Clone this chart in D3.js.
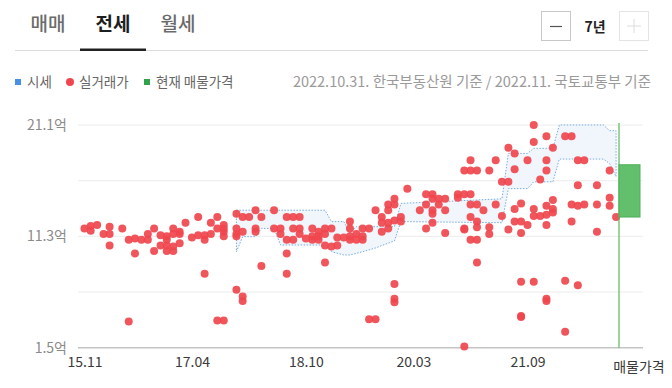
<!DOCTYPE html>
<html>
<head>
<meta charset="utf-8">
<script src="https://cdn.jsdelivr.net/npm/d3@7"></script>
<style>
  html, body { margin: 0; padding: 0; background: #fff; }
  svg { display: block; font-family: "Noto Sans CJK KR", "Noto Sans", sans-serif; }
</style>
</head>
<body>
<div id="chart"></div>
<script>
// tabs / controls
const tabs = ["매매", "전세", "월세"]
const activeTab = "전세"
const periodLabel = "7년"

// legend
const legendItems = [
  { label: "시세", shape: "square", color: "#4a90e2" },
  { label: "실거래가", shape: "circle", color: "#f0464e" },
  { label: "현재 매물가격", shape: "square", color: "#2fa24a" }
]
const sourceNote = "2022.10.31. 한국부동산원 기준 / 2022.11. 국토교통부 기준"

// axes
const yTickValues = [1.5, 6.4, 11.3, 16.2, 21.1]
const yLabelValues = [1.5, 11.3, 21.1]
const xTickLabels = ["15.11", "17.04", "18.10", "20.03", "21.09"]
const listingLabel = "매물가격"

// 실거래가 (억) by contract month
const tradeMonths = [
  "2015-11", "2015-12", "2016-01", "2016-02", "2016-03", "2016-05", "2016-06", "2016-07",
  "2016-08", "2016-09", "2016-10", "2016-11", "2016-12", "2017-01", "2017-02", "2017-03",
  "2017-04", "2017-05", "2017-06", "2017-07", "2017-08", "2017-09", "2017-11", "2017-12",
  "2018-01", "2018-02", "2018-03", "2018-05", "2018-06", "2018-07", "2018-08", "2018-09",
  "2018-10", "2018-11", "2018-12", "2019-01", "2019-02", "2019-03", "2019-04", "2019-05",
  "2019-06", "2019-07", "2019-08", "2019-09", "2019-10", "2019-11", "2019-12", "2020-01",
  "2020-02", "2020-04", "2020-05", "2020-06", "2020-07", "2020-08", "2020-10", "2020-11",
  "2020-12", "2021-01", "2021-02", "2021-03", "2021-04", "2021-05", "2021-06", "2021-07",
  "2021-08", "2021-09", "2021-10", "2021-11", "2021-12", "2022-01", "2022-03", "2022-04",
  "2022-05", "2022-06", "2022-08", "2022-10", "2022-11"
]
const tradePrices = [
  [12.0], [12.2, 11.8], [12.3], [11.5], [12.15, 11.5, 10.5], [12.0], [11.0, 3.8], [11.1, 9.8],
  [11.0], [11.5, 11.0], [12.0, 10.0], [11.4, 10.5], [11.3, 11.0, 10.5, 10.0], [12.0, 11.5, 10.4, 10.0], [11.7, 11.5, 10.7], [12.5],
  [11.2], [13.0, 11.4], [11.4, 11.0, 8.0], [12.5, 11.5], [13.0, 12.0, 3.9], [12.3, 12.0, 11.7, 11.3, 3.9], [13.3, 12.0, 11.5, 11.3, 6.6], [13.0, 11.7, 6.0, 5.6],
  [13.0], [13.6, 12.0, 11.7], [13.0, 8.7], [13.6, 12.0], [12.0, 11.5], [13.0, 11.0, 9.8, 8.0], [13.0, 12.0, 11.0], [13.0, 12.0, 11.5],
  [11.1], [12.0, 11.3, 11.0], [11.7, 11.3, 11.0], [12.0, 11.5, 10.5, 9.0], [12.0, 10.4], [11.2, 10.5], [11.2], [12.6, 12.0, 11.3, 11.0],
  [11.5, 11.0], [12.0, 11.3, 11.0], [12.0, 4.0], [13.6, 4.0], [13.0, 12.5, 11.7], [14.1, 13.6, 12.5, 12.0], [14.6, 14.1, 12.7, 7.1, 5.8, 5.5], [13.0, 12.6],
  [15.5], [13.6], [15.0, 14.1, 12.0], [15.0, 14.6, 13.6, 13.3, 12.5], [14.6, 14.1], [14.6, 13.6, 11.6], [15.0, 14.7], [17.1, 15.0, 12.0, 11.9, 1.6],
  [18.0, 17.1, 15.0, 14.1, 13.0, 11.0], [17.1, 14.1, 12.6, 12.1, 11.0, 9.0], [13.6], [17.1, 12.1, 11.5], [18.0, 14.1], [16.1, 13.1], [19.1, 16.1, 11.9], [18.6, 17.2, 13.7, 12.6],
  [14.2, 12.6, 11.6, 7.3, 4.3, 4.2], [18.0, 12.3], [21.1, 19.6, 13.7, 13.1, 7.3], [16.3, 13.1], [20.1, 18.0, 17.1, 14.0, 13.2, 12.3, 5.8, 5.6], [19.1, 14.5, 13.7, 13.4], [20.1, 7.4, 2.9], [20.1, 14.1, 12.6],
  [18.0, 15.8, 14.0, 7.0], [18.0, 14.1], [15.8, 14.1, 11.7], [17.1, 14.7, 14.0], [13.0]
]

// 시세 band (억): upper / lower
const siseMonths = [
  "2017-11", "2017-12", "2018-02", "2018-03", "2018-05", "2018-06", "2019-01", "2019-02",
  "2019-04", "2019-05", "2019-06", "2019-07", "2019-09", "2019-11", "2019-12", "2020-01",
  "2021-05", "2021-06", "2021-09", "2021-10", "2022-01", "2022-02", "2022-09", "2022-10", "2022-11"
]
const siseHigh = [
  13.6, 13.6, 13.6, 13.6, 13.6, 13.6, 13.6, 12.6,
  12.6, 11.6, 12.15, 12.15, 12.15, 12.15, 12.15, 14.2,
  14.6, 18.6, 18.6, 19.05, 19.05, 21.1, 21.1, 20.6, 20.6
]
const siseLow = [
  9.95, 11.27, 11.27, 12.0, 12.0, 10.54, 10.54, 9.95,
  9.66, 9.66, 9.8, 9.95, 10.28, 10.7, 10.9, 12.6,
  12.5, 15.5, 15.5, 16.1, 16.1, 18.1, 18.1, 17.7, 16.55
]

// 현재 매물가격 range (억)
const listingLow = 13.0
const listingHigh = 17.6

const width = 672, height = 388
const parseMonth = d3.timeParse("%Y-%m")
const parseTick = d3.timeParse("%y.%m")

const svg = d3.select("#chart")
  .append("svg")
  .attr("width", width)
  .attr("height", height)

svg.append("rect").attr("width", width).attr("height", height).attr("fill", "#fff")

// ---- tabs
const tabX = d3.scalePoint().domain(tabs).range([48, 178])

svg.selectAll(".tab")
  .data(tabs)
  .enter()
  .append("text")
  .attr("class", "tab")
  .attr("x", d => tabX(d))
  .attr("y", 31)
  .attr("text-anchor", "middle")
  .attr("font-size", 19)
  .attr("font-weight", d => d == activeTab ? 700 : 500)
  .attr("fill", d => d == activeTab ? "#1e1e1e" : "#6b6b6b")
  .text(d => d)

svg.append("line")
  .attr("x1", 15).attr("x2", 648)
  .attr("y1", 50.5).attr("y2", 50.5)
  .attr("stroke", "#dcdcdc")

svg.append("rect")
  .attr("x", tabX(activeTab) - 33)
  .attr("y", 48.5)
  .attr("width", 66)
  .attr("height", 2.5)
  .attr("fill", "#222")

// period buttons
svg.append("rect")
  .attr("x", 541.5).attr("y", 11.5).attr("width", 29).attr("height", 29)
  .attr("fill", "#fff").attr("stroke", "#c8c8c8")
svg.append("line")
  .attr("x1", 550).attr("x2", 562).attr("y1", 26.5).attr("y2", 26.5)
  .attr("stroke", "#555").attr("stroke-width", 1.2)

svg.append("text")
  .attr("x", 595).attr("y", 32)
  .attr("text-anchor", "middle")
  .attr("font-size", 14)
  .attr("font-weight", 700)
  .attr("fill", "#222")
  .text(periodLabel)

svg.append("rect")
  .attr("x", 619.5).attr("y", 11.5).attr("width", 29).attr("height", 29)
  .attr("fill", "#fff").attr("stroke", "#e4e4e4")
svg.append("line")
  .attr("x1", 627).attr("x2", 641).attr("y1", 26).attr("y2", 26)
  .attr("stroke", "#dcdcdc")
svg.append("line")
  .attr("x1", 634).attr("x2", 634).attr("y1", 19).attr("y2", 33)
  .attr("stroke", "#dcdcdc")

// ---- legend
const legendX = [15, 66, 144]
const legend = svg.selectAll(".legend")
  .data(legendItems)
  .enter()
  .append("g")
  .attr("class", "legend")
  .attr("transform", (d, i) => "translate(" + legendX[i] + ",82)")

legend.filter(d => d.shape == "square")
  .append("rect")
  .attr("x", 0).attr("y", -3).attr("width", 6).attr("height", 6)
  .attr("fill", d => d.color)

legend.filter(d => d.shape == "circle")
  .append("circle")
  .attr("cx", 4).attr("cy", 0).attr("r", 4)
  .attr("fill", d => d.color)

legend.append("text")
  .attr("x", d => d.shape == "circle" ? 13 : 12)
  .attr("y", 5)
  .attr("font-size", 13.5)
  .attr("fill", "#666")
  .text(d => d.label)

svg.append("text")
  .attr("x", 651).attr("y", 87)
  .attr("text-anchor", "end")
  .attr("font-size", 14.5)
  .attr("fill", "#9a9a9a")
  .text(sourceNote)

// ---- scales
const plotLeft = 78, plotRight = 643
const x = d3.scaleTime()
  .domain([new Date(2015, 9, 1), new Date(2022, 10, 15)])
  .range([plotLeft, 619])

const y = d3.scaleLinear()
  .domain([1.5, 21.1])
  .range([347.7, 125])

// grid
svg.selectAll(".grid")
  .data(yTickValues.filter(v => v > 1.5))
  .enter()
  .append("line")
  .attr("class", "grid")
  .attr("x1", plotLeft).attr("x2", plotRight)
  .attr("y1", d => y(d)).attr("y2", d => y(d))
  .attr("stroke", "#ececec")

svg.append("line")
  .attr("x1", plotLeft).attr("x2", plotRight)
  .attr("y1", y(1.5)).attr("y2", y(1.5))
  .attr("stroke", "#c4c4c4")
  .attr("stroke-width", 1.5)

svg.selectAll(".ylabel")
  .data(yLabelValues)
  .enter()
  .append("text")
  .attr("class", "ylabel")
  .attr("x", 67)
  .attr("y", d => y(d) + 5)
  .attr("text-anchor", "end")
  .attr("font-size", 14)
  .attr("fill", "#8a8a8a")
  .text(d => d + "억")

// x axis labels
const xAxis = d3.axisBottom(x)
  .tickValues(xTickLabels.map(parseTick))
  .tickFormat(d3.timeFormat("%y.%m"))
  .tickSize(0)
  .tickPadding(0)

const gx = svg.append("g")
  .attr("transform", "translate(0,357)")
  .call(xAxis)
gx.select(".domain").remove()
gx.selectAll("text")
  .attr("font-size", 14)
  .attr("font-family", "\"Noto Sans CJK KR\", sans-serif")
  .attr("fill", "#3a3a3a")

svg.append("text")
  .attr("x", 639).attr("y", 372)
  .attr("text-anchor", "middle")
  .attr("font-size", 14)
  .attr("fill", "#3a3a3a")
  .text(listingLabel)

// ---- 시세 band
const siseData = siseMonths.map((m, i) => ({ date: parseMonth(m), high: siseHigh[i], low: siseLow[i] }))

const band = d3.area()
  .x(d => x(d.date))
  .y0(d => y(d.low))
  .y1(d => y(d.high))

svg.append("path")
  .datum(siseData)
  .attr("d", band)
  .attr("fill", "#f0f6fc")
  .attr("stroke", "#79acdd")
  .attr("stroke-width", 1)
  .attr("stroke-dasharray", "1.5,1.5")

// ---- 실거래가 dots
const trades = []
tradeMonths.forEach((m, i) => {
  tradePrices[i].forEach(p => trades.push({ date: parseMonth(m), value: p }))
})

svg.selectAll(".trade")
  .data(trades)
  .enter()
  .append("circle")
  .attr("class", "trade")
  .attr("cx", d => x(d.date))
  .attr("cy", d => y(d.value))
  .attr("r", 4)
  .attr("fill", "#f0464e")
  .attr("fill-opacity", 0.92)

// ---- 현재 매물가격
const listingX = x(new Date(2022, 10, 15))

svg.append("line")
  .attr("x1", listingX).attr("x2", listingX)
  .attr("y1", y(21.1) - 2).attr("y2", y(1.5))
  .attr("stroke", "#5cb85c")
  .attr("stroke-width", 1.2)

svg.append("rect")
  .attr("x", listingX)
  .attr("y", y(listingHigh))
  .attr("width", 21)
  .attr("height", y(listingLow) - y(listingHigh))
  .attr("fill", "#62c06c")
  .attr("stroke", "#4fae5a")
  .attr("stroke-width", 1)
</script>
</body>
</html>
